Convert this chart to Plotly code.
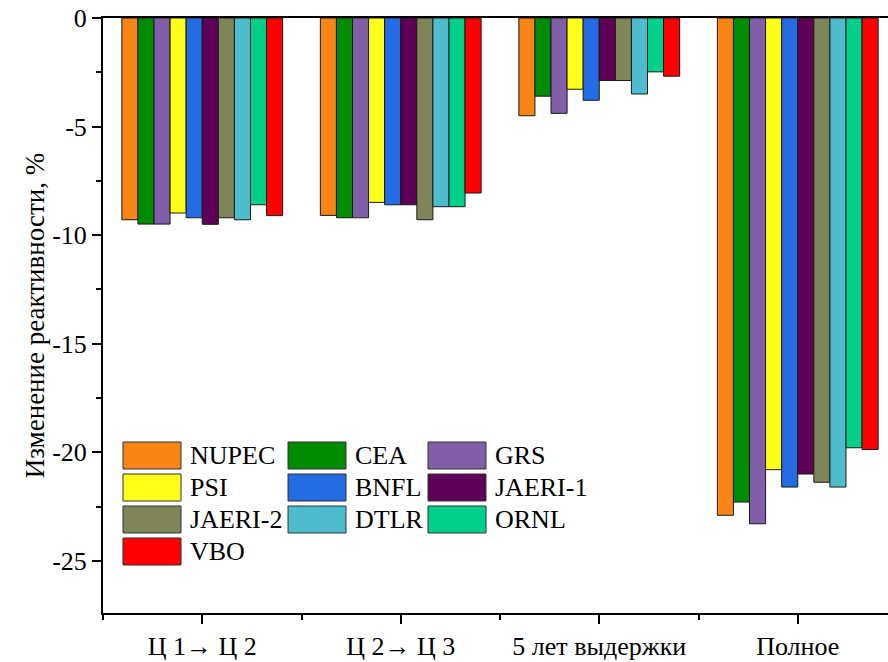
import plotly.graph_objects as go

categories = ["Ц 1→ Ц 2", "Ц 2→ Ц 3", "5 лет выдержки", "Полное"]
series_names = ["NUPEC", "CEA", "GRS", "PSI", "BNFL", "JAERI-1", "JAERI-2", "DTLR", "ORNL", "VBO"]
series_colors = ["#F98517", "#008C00", "#815EA8", "#FFFF19", "#246CE3",
                 "#5E0055", "#808558", "#4DBDCD", "#00D08A", "#FF0000"]

nupec = [-9.29, -9.09, -4.50, -22.90]
cea = [-9.49, -9.20, -3.60, -22.29]
grs = [-9.49, -9.20, -4.39, -23.29]
psi = [-8.98, -8.49, -3.28, -20.80]
bnfl = [-9.20, -8.60, -3.79, -21.60]
jaeri1 = [-9.50, -8.60, -2.88, -21.00]
jaeri2 = [-9.20, -9.29, -2.88, -21.38]
dtlr = [-9.29, -8.69, -3.50, -21.60]
ornl = [-8.60, -8.69, -2.48, -19.79]
vbo = [-9.10, -8.06, -2.68, -19.87]
series_values = [nupec, cea, grs, psi, bnfl, jaeri1, jaeri2, dtlr, ornl, vbo]

y_title = "Изменение реактивности, %"
y_ticks = [0, -5, -10, -15, -20, -25]

FONT = "Liberation Serif, Times New Roman, serif"
W, H = 888, 662
ML, MR, MT, MB = 103, 0, 18, 49

fig = go.Figure()
xpos = list(range(len(categories)))
for name, color, vals in zip(series_names, series_colors, series_values):
    fig.add_trace(go.Bar(
        x=xpos, y=vals, name=name,
        marker=dict(color=color, line=dict(color="#1a1a1a", width=1)),
        showlegend=False,
    ))

# custom legend with large swatches, as in the original
pw = W - ML - MR
ph = H - MT - MB
col_swatch_px = [123, 288, 428]
row_center_px0 = 455.5
row_pitch = 32
sw_w, sw_h = 58, 27
text_gap = 7
for i, (name, color) in enumerate(zip(series_names, series_colors)):
    r, c = divmod(i, 3)
    cy = row_center_px0 + r * row_pitch
    x0 = col_swatch_px[c]
    fig.add_shape(type="rect", xref="paper", yref="paper",
                  x0=(x0 - ML) / pw, x1=(x0 + sw_w - ML) / pw,
                  y0=(H - MB - (cy + sw_h / 2)) / ph, y1=(H - MB - (cy - sw_h / 2)) / ph,
                  fillcolor=color, line=dict(color="#333333", width=1))
    fig.add_annotation(xref="paper", yref="paper",
                       x=(x0 + sw_w + text_gap - ML) / pw, y=(H - MB - cy) / ph,
                       text=name, showarrow=False, xanchor="left", yanchor="middle",
                       font=dict(family=FONT, size=26, color="black"))

fig.update_layout(
    width=W, height=H,
    margin=dict(l=ML, r=MR, t=MT, b=MB, pad=0),
    plot_bgcolor="white", paper_bgcolor="white",
    barmode="group", bargap=0.19, bargroupgap=0,
    font=dict(family=FONT, size=26, color="black"),
    showlegend=False,
)
fig.update_xaxes(
    range=[-0.5, -0.5 + pw / 198.5],
    tickmode="array", tickvals=xpos, ticktext=categories,
    ticks="outside", ticklen=9, tickwidth=1.5, tickcolor="black",
    showline=True, linecolor="black", linewidth=2, mirror=True,
    showgrid=False, zeroline=False,
    tickfont=dict(family=FONT, size=26, color="black"),
    minor=dict(tickmode="array", tickvals=[-0.5, 0.5, 1.5, 2.5, 3.5],
               ticks="outside", ticklen=5, tickwidth=1.5, tickcolor="black", showgrid=False),
)
fig.update_yaxes(
    range=[-27.4, 0],
    tickmode="array", tickvals=y_ticks, ticktext=[str(v) for v in y_ticks],
    ticks="outside", ticklen=9, tickwidth=1.5, tickcolor="black",
    showline=True, linecolor="black", linewidth=2, mirror=False,
    showgrid=False, zeroline=False,
    tickfont=dict(family=FONT, size=26, color="black"),
    minor=dict(tickmode="array", tickvals=[-2.5, -7.5, -12.5, -17.5, -22.5, -27.5],
               ticks="outside", ticklen=5, tickwidth=1.5, tickcolor="black", showgrid=False),
    title=dict(text=y_title, font=dict(family=FONT, size=27, color="black"), standoff=0),
)

fig.write_html("out.html")
